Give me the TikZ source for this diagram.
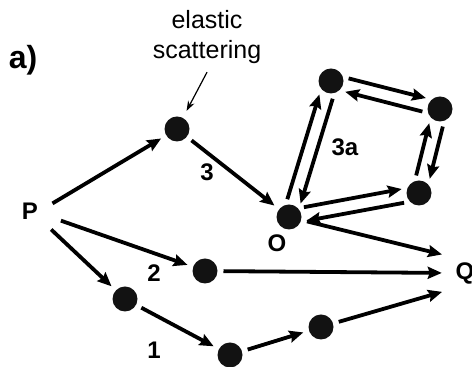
\documentclass[tikz,border=0pt]{standalone}
\usepackage{fontspec}
\setmainfont{Liberation Sans}
\usetikzlibrary{arrows.meta,positioning}

\begin{document}
\begin{tikzpicture}[
  x=0.5pt,y=-0.5pt,
  >={Stealth[length=7pt,width=6pt,inset=1pt]},
  line width=1.9pt,
  dot/.style={circle,fill=black!93,minimum size=12.5pt,inner sep=0pt,outer sep=0pt},
  lbl/.style={font=\fontsize{12}{14}\selectfont\bfseries,inner sep=2pt},
  gap/.style={shorten <=3pt,shorten >=3pt},
]
\useasboundingbox (0,0) rectangle (472,367);

\node[lbl,font=\fontsize{16}{18}\selectfont\bfseries] (tag) at (23,60) {a)};
\node[font=\fontsize{12.5}{15}\selectfont,align=center] (es) at (207,37) {elastic\\scattering};

\node[lbl] (P) at (30,211) {P};
\node[lbl] (Q) at (465,273) {Q};

\node[dot] (A) at (177,129) {};
\node[dot] (O) at (289,217) {};
\node[dot] (B) at (331,81) {};
\node[dot] (C) at (440,109) {};
\node[dot] (D) at (419,193) {};
\node[dot] (E) at (205,271) {};
\node[dot] (F) at (125,299) {};
\node[dot] (G) at (230,355) {};
\node[dot] (H) at (321,327) {};

\node[lbl] (nO) at (277,243) {O};
\node[lbl] (n3) at (207,172) {3};
\node[lbl] (n3a) at (345,147) {3a};
\node[lbl] (n2) at (154,273) {2};
\node[lbl] (n1) at (154,350) {1};

% pointer to the scattering centre
\draw[->,line width=0.6pt,>={Stealth[length=5pt,width=3.5pt]},shorten >=4pt] (es.south) -- (A);

% path 3
\draw[->,gap,shorten <=5pt] (P.10) -- (A);
\draw[->,gap] (A) -- (O);
\draw[->,gap,shorten >=4pt] (O) -- (Q.north west);

% loop 3a
\draw[->,gap] (O.106.8) -- (B.218.8);
\draw[->,gap] (B.286.8) -- (O.38.8);
\draw[->,gap] (B.19.6) -- (C.131.6);
\draw[->,gap] (C.199.6) -- (B.-48.4);
\draw[->,gap] (C.-70) -- (D.42);
\draw[->,gap] (D.110) -- (C.-138);
\draw[->,gap] (O.44.5) -- (D.156.5);
\draw[->,gap] (D.224.5) -- (O.-23.5);

% path 2
\draw[->,gap,shorten <=9pt] (P.-15) -- (E);
\draw[->,gap,shorten >=4pt] (E) -- (Q.west);

% path 1
\draw[->,gap,shorten <=5pt] (P.-40) -- (F);
\draw[->,gap] (F) -- (G);
\draw[->,gap] (G) -- (H);
\draw[->,gap,shorten >=4pt] (H) -- (Q.south west);

\end{tikzpicture}
\end{document}
